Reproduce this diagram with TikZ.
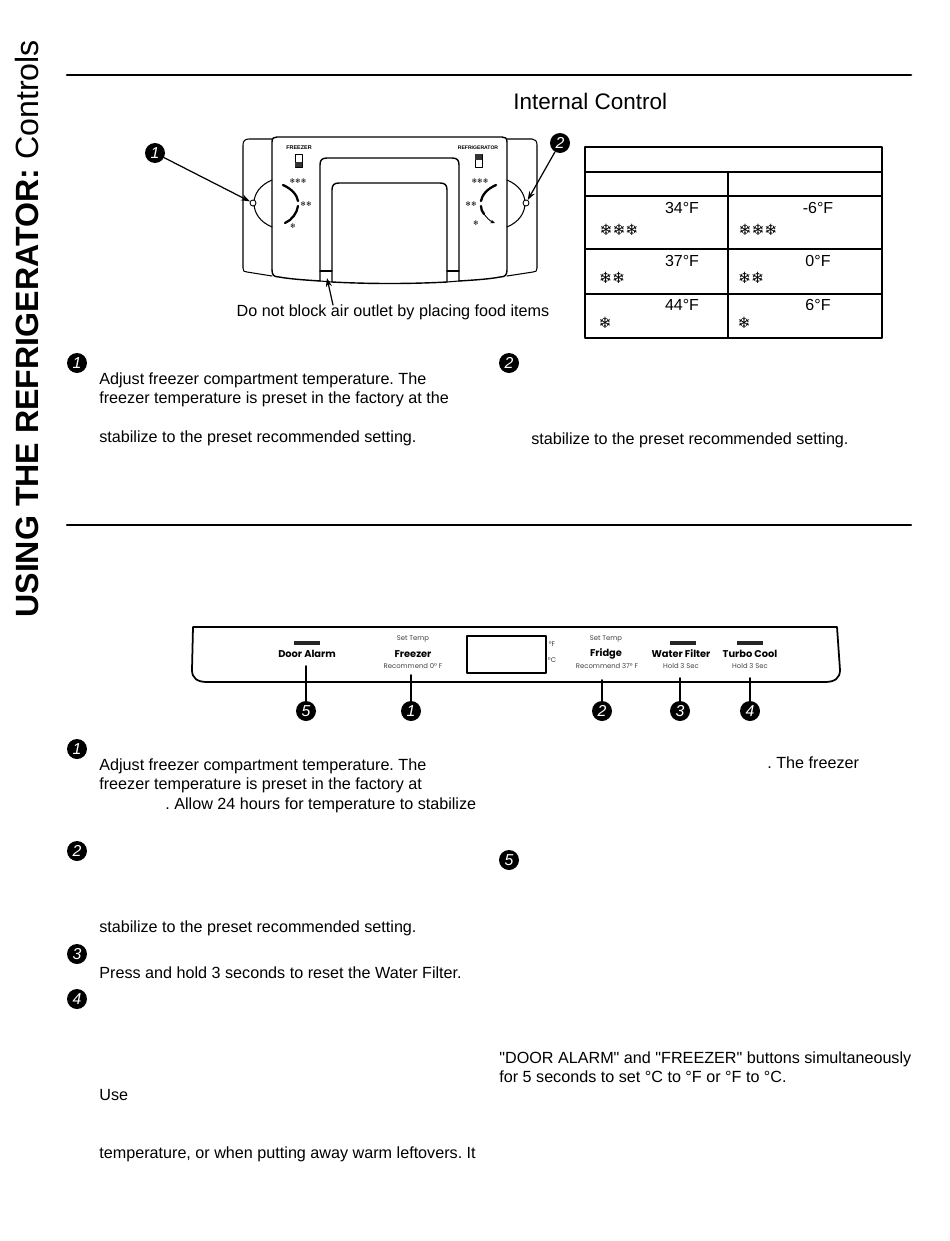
\documentclass[tikz,border=0pt]{standalone}
\usepackage{fontspec}
\setmainfont{Liberation Sans}
\newfontfamily\bodyfont{Liberation Sans}
\newfontfamily\symfont{DejaVu Sans}
\newfontfamily\panelfont{Poppins}
\usetikzlibrary{arrows.meta}
\newcommand{\snowa}{{\symfont\char"2744}}
\frenchspacing
\tikzset{
	bodytext/.style={anchor=base west,inner sep=0pt,font=\bodyfont\fontsize{9.2}{11}\selectfont},
	badge/.style={circle,fill=black,text=white,inner sep=0pt,minimum size=0.4cm,font=\fontsize{9}{9}\selectfont\itshape},
	cell/.style={inner sep=0pt,font=\fontsize{9.1}{10}\selectfont},
	flake/.style={inner sep=0pt,font=\fontsize{8.8}{9}\selectfont},
	tinyflake/.style={inner sep=0pt,font=\fontsize{3.8}{4}\selectfont},
	knob/.style={circle,draw,fill=white,inner sep=0pt,minimum size=0.12cm,line width=0.5pt},
	paneltitle/.style={inner sep=0pt,font=\panelfont\fontsize{5.6}{6}\selectfont\bfseries},
	panelsmall/.style={inner sep=0pt,text=black!75,font=\panelfont\fontsize{3.9}{4}\selectfont},
	panelbar/.style={fill=black!85},
}
\begin{document}
\begin{tikzpicture}[x=0.02cm,y=-0.02cm,line join=round,line cap=round,>={Stealth[length=5pt,width=3.5pt]}]
	\useasboundingbox (0,0) rectangle (950,1241);
	% page title and rules
	\node[rotate=90,anchor=base west,inner sep=0pt,font=\fontsize{18.3}{19}\selectfont] (title) at (38,618) {\textbf{USING THE REFRIGERATOR:} Controls};
	\draw[line width=1.5pt] (67,75) -- (911,75);
	\draw[line width=1.2pt] (67,525) -- (911,525);
	\node[anchor=base west,inner sep=0pt,font=\fontsize{12.8}{13}\selectfont] (internal) at (513,109) {Internal Control};
	% control housing
	\draw[line width=0.6pt] (272,139) -- (249,139) .. controls (245,139) and (243,141) .. (243,145) -- (243,268) .. controls (243,271) and (244,272) .. (247,272) -- (272,276);
	\draw[line width=0.6pt] (507,139) -- (532,139) .. controls (535,139) and (537,141) .. (537,145) -- (537,268) .. controls (537,271) and (536,272) .. (533,272) -- (507,276);
	\draw[line width=0.8pt] (272,270) -- (272,142) .. controls (272,138) and (274,137) .. (277,137) -- (502,137) .. controls (505,137) and (507,138) .. (507,142) -- (507,270) .. controls (507,275) and (505,277) .. (500,277) .. controls (490,279) and (475,280) .. (459,281);
	\draw[line width=0.8pt] (272,270) .. controls (272,275) and (274,277) .. (279,277) .. controls (290,279) and (305,280) .. (320,281);
	\draw[line width=0.8pt] (320,281) -- (320,165) .. controls (320,160) and (322,158) .. (327,158) -- (452,158) .. controls (457,158) and (459,160) .. (459,165) -- (459,281);
	\draw[line width=0.8pt] (332,282) -- (332,190) .. controls (332,185) and (334,183) .. (339,183) -- (440,183) .. controls (445,183) and (447,185) .. (447,190) -- (447,282) .. controls (410,284) and (370,284) .. (332,282);
	\draw[line width=0.6pt] (320,271) -- (332,271) (447,271) -- (459,271);
	\draw[line width=0.6pt] (320,281) -- (332,282) (447,282) -- (459,281);
	% knobs
	\draw[line width=0.6pt] (272,180) .. controls (260,185) and (254,194) .. (254,203) .. controls (254,213) and (260,222) .. (272,227);
	\draw[line width=0.6pt] (507,180) .. controls (519,185) and (525,194) .. (525,203) .. controls (525,213) and (519,222) .. (507,227);
	\node[knob] (knobl) at (253,203) {};
	\node[knob] (knobr) at (526,203) {};
	% dials
	\draw[line width=1.3pt] (283,185) .. controls (292,189) and (297,195) .. (298,201);
	\draw[line width=1.3pt] (298,206) .. controls (297,213) and (292,220) .. (285,223);
	\draw[line width=1.3pt] (496,185) .. controls (487,189) and (482,195) .. (481,201);
	\draw[line width=1.3pt] (481,206) .. controls (481,209) and (482,212) .. (484,214);
	\draw[line width=0.5pt,-{Stealth[length=2.5pt,width=2pt]}] (484,214) .. controls (487,218) and (490,221) .. (495,223);
	\node[inner sep=0pt,font=\bfseries\fontsize{3.1}{4}\selectfont] (frz) at (299,148) {FREEZER};
	\node[inner sep=0pt,font=\bfseries\fontsize{2.9}{4}\selectfont] (ref) at (478,148) {REFRIGERATOR};
	\draw[line width=0.3pt] (295,154) rectangle (302,167);
	\fill[black!80] (295,162) rectangle (302,167);
	\draw[line width=0.3pt] (475,154) rectangle (482,167);
	\fill[black!80] (475,154) rectangle (482,160);
	\node[tinyflake] (s3l) at (298,181) {\snowa\snowa\snowa};
	\node[tinyflake] (s2l) at (306,204) {\snowa\snowa};
	\node[tinyflake] (s1l) at (293,226) {\snowa};
	\node[tinyflake] (s3r) at (480,181) {\snowa\snowa\snowa};
	\node[tinyflake] (s2r) at (471,204) {\snowa\snowa};
	\node[tinyflake] (s1r) at (476,223) {\snowa};
	% callouts of the control
	\node[badge] (top1) at (155,153) {1};
	\node[badge] (top2) at (560,143) {2};
	\draw[->,line width=0.7pt] (top1) -- (knobl);
	\draw[->,line width=0.7pt] (top2) -- (knobr);
	\node[anchor=base,inner sep=0pt,font=\fontsize{9.2}{11}\selectfont] (outlet) at (393,316) {Do not block air outlet by placing food items};
	\coordinate (outletend) at (327,278);
	\draw[->,line width=0.7pt] (333,305) -- (outletend);
	% temperature table
	\draw[line width=0.9pt] (585,147) rectangle (882,338);
	\foreach \yy in {172,196,249,294}
		\draw[line width=0.9pt] (585,\yy) -- (882,\yy);
	\draw[line width=0.9pt] (728,172) -- (728,338);
	\foreach \xx/\yy/\txt [count=\n] in {682/208/34°F,818/208/-6°F,682/261/37°F,818/261/0°F,682/305/44°F,818/305/6°F}
		\node[cell] (temp\n) at (\xx,\yy) {\txt};
	\foreach \xx/\yy/\txt [count=\n] in {619/230/\snowa\snowa\snowa,758/230/\snowa\snowa\snowa,612/278/\snowa\snowa,751/278/\snowa\snowa,605/323/\snowa,744/323/\snowa}
		\node[flake] (flake\n) at (\xx,\yy) {\txt};
	% text blocks
	\foreach \xx/\yy/\txt [count=\n] in {
		99/384/{Adjust freezer compartment temperature. The},
		99/403/{freezer temperature is preset in the factory at the},
		99/442/{stabilize to the preset recommended setting.},
		531/444/{stabilize to the preset recommended setting.},
		99/770/{Adjust freezer compartment temperature. The},
		99/789/{freezer temperature is preset in the factory at},
		165/809/{. Allow 24 hours for temperature to stabilize},
		767/768/{. The freezer},
		99/932/{stabilize to the preset recommended setting.},
		99/978/{Press and hold 3 seconds to reset the Water Filter.},
		499/1063/{"DOOR ALARM" and "FREEZER" buttons simultaneously},
		499/1082/{for 5 seconds to set °C to °F or °F to °C.},
		99/1100/{Use},
		99/1158/{temperature, or when putting away warm leftovers. It}}
		\node[bodytext] (line\n) at (\xx,\yy) {\txt};
	\foreach \xx/\yy/\txt [count=\n] in {77/363/1,509/363/2,77/749/1,77/851/2,77/954/3,77/999/4,509/860/5}
		\node[badge] (mark\n) at (\xx,\yy) {\txt};
	% dispenser panel
	\draw[line width=1pt] (193,627) -- (837,627) -- (840,670) .. controls (840,678) and (835,682) .. (825,682) -- (207,682) .. controls (197,682) and (192,678) .. (192,670) -- (193,627);
	\draw[line width=0.7pt] (467,636) rectangle (546,673);
	\node[panelsmall] (degf) at (552,644) {°F};
	\node[panelsmall] (degc) at (552,660) {°C};
	\foreach \xx in {294,670,737}
		\fill[panelbar] (\xx,641) rectangle ++(26,4);
	\node[paneltitle] (alarm) at (307,654) {Door Alarm};
	\node[panelsmall] (set1) at (413,639) {Set Temp};
	\node[paneltitle] (freezer) at (413,654) {Freezer};
	\node[panelsmall] (rec1) at (413,666) {Recommend 0° F};
	\node[panelsmall] (set2) at (606,639) {Set Temp};
	\node[paneltitle] (fridge) at (606,654) {Fridge};
	\node[panelsmall] (rec2) at (607,666) {Recommend 37° F};
	\node[paneltitle] (filter) at (681,654) {Water Filter};
	\node[panelsmall] (hold1) at (681,666) {Hold 3 Sec};
	\node[paneltitle] (turbo) at (750,654) {Turbo Cool};
	\node[panelsmall] (hold2) at (750,666) {Hold 3 Sec};
	% panel callouts
	\foreach \xx/\yy/\txt/\nm in {306/666/5/a,411/675/1/b,602/680/2/c,680/678/3/d,750/678/4/e} {
		\node[badge] (num\nm) at (\xx,711) {\txt};
		\coordinate (tip\nm) at (\xx,\yy);
		\draw[line width=0.9pt] (num\nm) -- (tip\nm);
	}
\end{tikzpicture}
\end{document}
